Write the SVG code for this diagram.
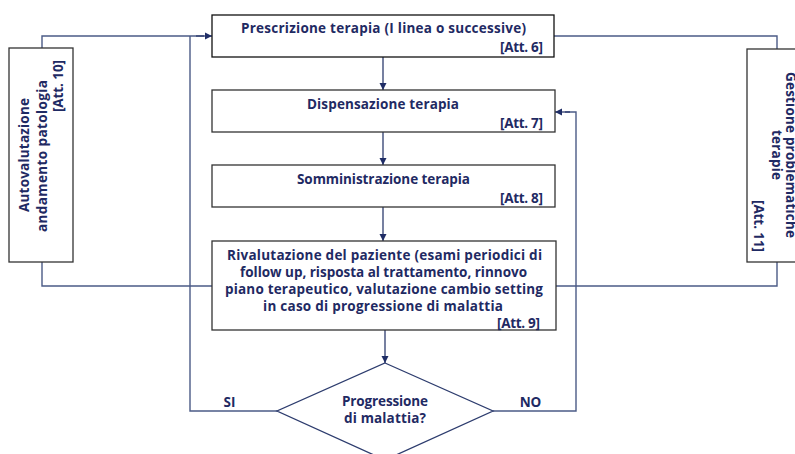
<svg xmlns="http://www.w3.org/2000/svg" width="795" height="454" viewBox="0 0 795 454">
<defs>
<marker id="arr" markerWidth="8" markerHeight="8" refX="7" refY="4" orient="auto" markerUnits="userSpaceOnUse">
<path d="M0,0.5 L7,4 L0,7.5 Z" fill="#1f2d66"/>
</marker>
<style>
.box{fill:#fff;stroke:#333;stroke-width:1.3}
.t{font-family:"Open Sans",Lato,sans-serif;font-weight:bold;font-size:13.5px;fill:#1f2a63}
.c{stroke:#4b5b86;stroke-width:1.4;fill:none}
.a{stroke:#2d3c6e;stroke-width:1.3;fill:none}
</style>
</defs>
<rect width="795" height="454" fill="#fff"/>
<g id="connectors">
<polyline class="c" points="42,48 42,36 204,36" />
<line class="a" x1="196" y1="36" x2="212" y2="36" marker-end="url(#arr)"/>
<polyline class="c" points="42,262 42,286 212,286"/>
<polyline class="c" points="777,49 777,36 554,36"/>
<polyline class="c" points="777,262 777,286 556,286"/>
<polyline class="c" points="277,411 190,411 190,36"/>
<polyline class="c" points="493,411 576,411 576,112 565,112"/>
<line class="a" x1="570" y1="112" x2="555" y2="112" marker-end="url(#arr)"/>
<line class="a" x1="383" y1="57" x2="383" y2="90" marker-end="url(#arr)"/>
<line class="a" x1="383" y1="132" x2="383" y2="165" marker-end="url(#arr)"/>
<line class="a" x1="383" y1="207" x2="383" y2="241" marker-end="url(#arr)"/>
<line class="a" x1="385" y1="330" x2="385" y2="363" marker-end="url(#arr)"/>
</g>
<g id="n_prescrizione">
<rect class="box" x="212" y="15" width="342" height="42" style="stroke:#111"/>
<text class="t" x="383.5" y="33" text-anchor="middle" textLength="285" lengthAdjust="spacing">Prescrizione terapia (I linea o successive)</text>
<text class="t" x="543" y="52" text-anchor="end" textLength="43" lengthAdjust="spacing">[Att. 6]</text>
</g>
<g id="n_dispensazione">
<rect class="box" x="212" y="90" width="343" height="42"/>
<text class="t" x="383" y="109" text-anchor="middle" textLength="152" lengthAdjust="spacing">Dispensazione terapia</text>
<text class="t" x="543" y="128" text-anchor="end" textLength="43" lengthAdjust="spacing">[Att. 7]</text>
</g>
<g id="n_somministrazione">
<rect class="box" x="212" y="165" width="343" height="42"/>
<text class="t" x="383.5" y="184" text-anchor="middle" textLength="173" lengthAdjust="spacing">Somministrazione terapia</text>
<text class="t" x="543" y="203" text-anchor="end" textLength="43" lengthAdjust="spacing">[Att. 8]</text>
</g>
<g id="n_rivalutazione">
<rect class="box" x="212" y="241" width="344" height="89"/>
<text class="t" x="384.5" y="260" text-anchor="middle" textLength="315" lengthAdjust="spacing">Rivalutazione del paziente (esami periodici di</text>
<text class="t" x="383.5" y="277" text-anchor="middle" textLength="287" lengthAdjust="spacing">follow up, risposta al trattamento, rinnovo</text>
<text class="t" x="384" y="294" text-anchor="middle" textLength="318" lengthAdjust="spacing">piano terapeutico, valutazione cambio setting</text>
<text class="t" x="383" y="311" text-anchor="middle" textLength="240" lengthAdjust="spacing">in caso di progressione di malattia</text>
<text class="t" x="540" y="328" text-anchor="end" textLength="43" lengthAdjust="spacing">[Att. 9]</text>
</g>
<g id="n_decisione">
<polygon points="385,363 493,411 385,460 277,411" fill="#fff" stroke="#2d3c6e" stroke-width="1.3"/>
<text class="t" x="385" y="406" text-anchor="middle" textLength="86" lengthAdjust="spacing">Progressione</text>
<text class="t" x="385" y="423" text-anchor="middle" textLength="82" lengthAdjust="spacing">di malattia?</text>
</g>
<g id="n_autovalutazione">
<rect class="box" x="9" y="48" width="64" height="214"/>
<text class="t" transform="translate(29,155) rotate(-90)" text-anchor="middle" textLength="114" lengthAdjust="spacing">Autovalutazione</text>
<text class="t" transform="translate(47,156) rotate(-90)" text-anchor="middle" textLength="152" lengthAdjust="spacing">andamento patologia</text>
<text class="t" transform="translate(63,60) rotate(-90)" text-anchor="end" textLength="52" lengthAdjust="spacing">[Att. 10]</text>
</g>
<g id="n_gestione">
<rect class="box" x="747" y="49" width="60" height="213"/>
<text class="t" transform="translate(786,155) rotate(90)" text-anchor="middle" textLength="166" lengthAdjust="spacing">Gestione problematiche</text>
<text class="t" transform="translate(772,155) rotate(90)" text-anchor="middle" textLength="50" lengthAdjust="spacing">terapie</text>
<text class="t" transform="translate(754,252) rotate(90)" text-anchor="end" textLength="52" lengthAdjust="spacing">[Att. 11]</text>
</g>
<g id="labels">
<text class="t" x="229.5" y="407" text-anchor="middle">SI</text>
<text class="t" x="530.5" y="407" text-anchor="middle">NO</text>
</g>
</svg>
